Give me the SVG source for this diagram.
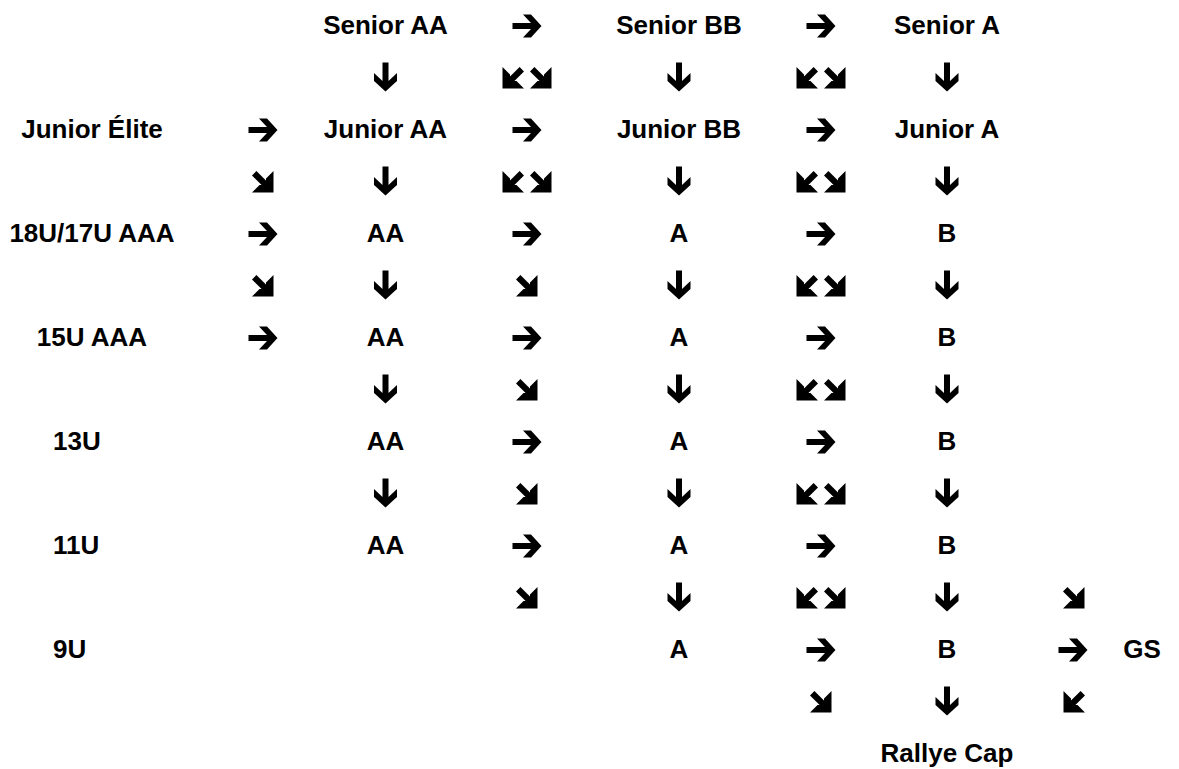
<svg xmlns="http://www.w3.org/2000/svg" xmlns:xlink="http://www.w3.org/1999/xlink" width="1179" height="769" viewBox="0 0 1179 769">
<style>
text{font-family:"Liberation Sans",Arial,sans-serif;font-weight:bold;font-size:26px;fill:#000;text-anchor:middle}
text.l{text-anchor:start}
.a{fill:#000}
</style>
<defs>
<path id="r" class="a" d="M-14.5,-3 H4 L-4,-11.5 H4 L14.5,0 L4,11.5 H-4 L4,3 H-14.5 Z"/>
<use id="d" xlink:href="#r" href="#r" transform="rotate(90)"/>
<path id="se" class="a" d="M10.5,10.5 L10.5,-11 L3,-3.5 L3,-1.4 L-6.6,-11 L-11,-6.6 L-1.4,3 L-3.5,3 L-11,10.5 Z"/>
<use id="sw" xlink:href="#se" href="#se" transform="scale(-1,1)"/>
</defs>
<rect width="1179" height="769" fill="#fff"/>
<g id="nodes">
<g id="senior-aa"><text x="385.5" y="34">Senior AA</text></g>
<g id="senior-bb"><text x="679" y="34">Senior BB</text></g>
<g id="senior-a"><text x="947" y="34">Senior A</text></g>
<g id="junior-elite"><text x="92" y="138">Junior Élite</text></g>
<g id="junior-aa"><text x="385.5" y="138">Junior AA</text></g>
<g id="junior-bb"><text x="679" y="138">Junior BB</text></g>
<g id="junior-a"><text x="947" y="138">Junior A</text></g>
<g id="u18-aaa"><text x="92" y="242">18U/17U AAA</text></g>
<g id="u18-aa"><text x="385.5" y="242">AA</text></g>
<g id="u18-a"><text x="679" y="242">A</text></g>
<g id="u18-b"><text x="947" y="242">B</text></g>
<g id="u15-aaa"><text x="92" y="346">15U AAA</text></g>
<g id="u15-aa"><text x="385.5" y="346">AA</text></g>
<g id="u15-a"><text x="679" y="346">A</text></g>
<g id="u15-b"><text x="947" y="346">B</text></g>
<g id="u13"><text class="l" x="53" y="450">13U</text></g>
<g id="u13-aa"><text x="385.5" y="450">AA</text></g>
<g id="u13-a"><text x="679" y="450">A</text></g>
<g id="u13-b"><text x="947" y="450">B</text></g>
<g id="u11"><text class="l" x="53" y="554">11U</text></g>
<g id="u11-aa"><text x="385.5" y="554">AA</text></g>
<g id="u11-a"><text x="679" y="554">A</text></g>
<g id="u11-b"><text x="947" y="554">B</text></g>
<g id="u9"><text class="l" x="53" y="658">9U</text></g>
<g id="u9-a"><text x="679" y="658">A</text></g>
<g id="u9-b"><text x="947" y="658">B</text></g>
<g id="gs"><text x="1142" y="658">GS</text></g>
<g id="rallye-cap"><text x="947" y="762">Rallye Cap</text></g>
</g>
<g id="connectors">
<!-- row 0 -->
<use href="#r" x="527" y="26"/><use href="#r" x="821" y="26"/>
<!-- row 1 -->
<use href="#d" x="385.5" y="77"/><use href="#sw" x="513" y="78"/><use href="#se" x="541" y="78"/><use href="#d" x="679" y="77"/><use href="#sw" x="807" y="78"/><use href="#se" x="835" y="78"/><use href="#d" x="947" y="77"/>
<!-- row 2 -->
<use href="#r" x="263" y="130"/><use href="#r" x="527" y="130"/><use href="#r" x="821" y="130"/>
<!-- row 3 -->
<use href="#se" x="263" y="182"/><use href="#d" x="385.5" y="181"/><use href="#sw" x="513" y="182"/><use href="#se" x="541" y="182"/><use href="#d" x="679" y="181"/><use href="#sw" x="807" y="182"/><use href="#se" x="835" y="182"/><use href="#d" x="947" y="181"/>
<!-- row 4 -->
<use href="#r" x="263" y="234"/><use href="#r" x="527" y="234"/><use href="#r" x="821" y="234"/>
<!-- row 5 -->
<use href="#se" x="263" y="286"/><use href="#d" x="385.5" y="285"/><use href="#se" x="527" y="286"/><use href="#d" x="679" y="285"/><use href="#sw" x="807" y="286"/><use href="#se" x="835" y="286"/><use href="#d" x="947" y="285"/>
<!-- row 6 -->
<use href="#r" x="263" y="338"/><use href="#r" x="527" y="338"/><use href="#r" x="821" y="338"/>
<!-- row 7 -->
<use href="#d" x="385.5" y="389"/><use href="#se" x="527" y="390"/><use href="#d" x="679" y="389"/><use href="#sw" x="807" y="390"/><use href="#se" x="835" y="390"/><use href="#d" x="947" y="389"/>
<!-- row 8 -->
<use href="#r" x="527" y="442"/><use href="#r" x="821" y="442"/>
<!-- row 9 -->
<use href="#d" x="385.5" y="493"/><use href="#se" x="527" y="494"/><use href="#d" x="679" y="493"/><use href="#sw" x="807" y="494"/><use href="#se" x="835" y="494"/><use href="#d" x="947" y="493"/>
<!-- row 10 -->
<use href="#r" x="527" y="546"/><use href="#r" x="821" y="546"/>
<!-- row 11 -->
<use href="#se" x="527" y="598"/><use href="#d" x="679" y="597"/><use href="#sw" x="807" y="598"/><use href="#se" x="835" y="598"/><use href="#d" x="947" y="597"/><use href="#se" x="1074" y="598"/>
<!-- row 12 -->
<use href="#r" x="821" y="650"/><use href="#r" x="1073" y="650"/>
<!-- row 13 -->
<use href="#se" x="821" y="702"/><use href="#d" x="947" y="701"/><use href="#sw" x="1074" y="702"/>
</g>
</svg>
